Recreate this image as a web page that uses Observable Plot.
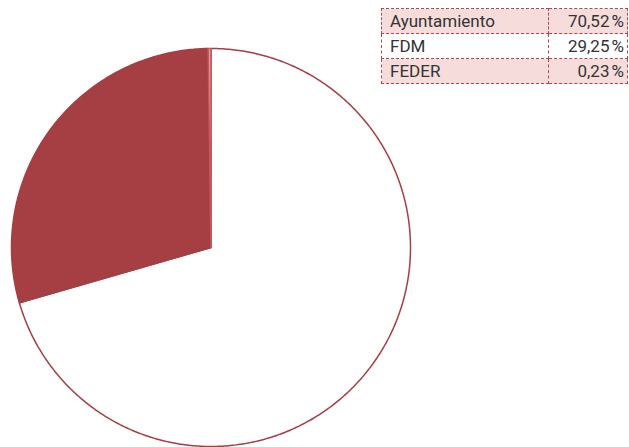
<!DOCTYPE html>
<html><head><meta charset="utf-8">
<script src="https://cdn.jsdelivr.net/npm/d3@7"></script>
<script src="https://cdn.jsdelivr.net/npm/@observablehq/plot@0.6"></script>
<style>
html,body{margin:0;padding:0;background:#fff;}
#wrap{position:relative;width:629px;height:447px;}
#tbl{position:absolute;left:381px;top:8px;border-collapse:collapse;font-family:Roboto,"DejaVu Sans",sans-serif;font-weight:400;font-size:17px;color:#333;}
#tbl td{border:1px dashed #b5474c;height:24px;padding:0 4px 0 8px;line-height:24px;box-sizing:border-box;}
#tbl td.v{text-align:right;padding-right:3px;}
</style></head>
<body><div id="wrap"></div>
<script>
const labels = ["Ayuntamiento", "FDM", "FEDER"];
const values = [70.52, 29.25, 0.23];
const valueText = ["70,52\u202F%", "29,25\u202F%", "0,23\u202F%"];
const fills = ["#ffffff", "#a53f44", "#e39a9a"];
const strokes = ["#a53f44", "#a53f44", "#c0595e"];
const rowFill = ["#f7dcdc", "#ffffff", "#f7dcdc"];

const pie = d3.pie().sort(null).value(d => d.value)(labels.map((l,i)=>({label:l,value:values[i],i})));
const pts = [];
for (const s of pie) {
  const i = s.data.i;
  pts.push({k:i, x:0, y:0});
  const n = Math.max(2, Math.ceil((s.endAngle - s.startAngle) / 0.01));
  for (let j = 0; j <= n; j++) {
    const a = s.startAngle + (s.endAngle - s.startAngle) * j / n;
    pts.push({k:i, x:Math.sin(a), y:Math.cos(a)});
  }
  pts.push({k:i, x:0, y:0});
}

const chart = Plot.plot({
  width: 629, height: 447,
  margin: 0,
  x: {domain:[-1,1], range:[11,410], axis:null},
  y: {domain:[-1,1], range:[446,48], axis:null},
  marks: [
    Plot.line(pts, {x:"x", y:"y", z:"k", curve:"linear",
      fill: d => fills[d.k], stroke: d => strokes[d.k], strokeWidth: 1.5, strokeLinejoin:"round"})
  ]
});
const wrap = document.getElementById("wrap");
wrap.appendChild(chart);

const t = document.createElement("table");
t.id = "tbl";
labels.forEach((l,i)=>{
  const tr = document.createElement("tr");
  tr.style.background = rowFill[i];
  tr.style.height = "25px";
  const a = document.createElement("td"); a.textContent = l; a.style.width="167px";
  const b = document.createElement("td"); b.textContent = valueText[i]; b.className="v"; b.style.width="79px";
  tr.appendChild(a); tr.appendChild(b); t.appendChild(tr);
});
wrap.appendChild(t);
</script></body></html>
